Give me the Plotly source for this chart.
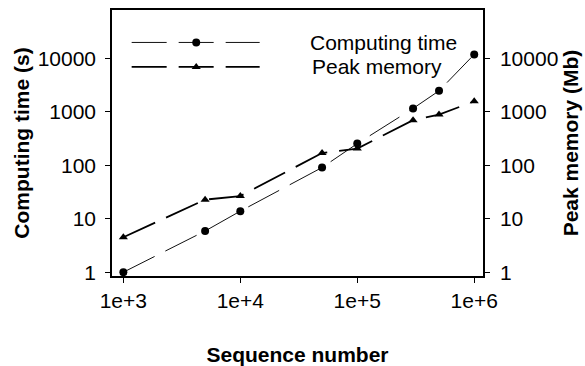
import plotly.graph_objects as go

seq_number = [1e3, 5e3, 1e4, 5e4, 1e5, 3e5, 5e5, 1e6]
computing_time = [1.0, 5.9, 13.9, 91, 255, 1160, 2480, 11900]
peak_memory = [4.5, 22.8, 26.6, 170, 206, 700, 890, 1580]

x_ticks = [1e3, 1e4, 1e5, 1e6]
x_tick_text = ["1e+3", "1e+4", "1e+5", "1e+6"]
y_ticks = [1, 10, 100, 1000, 10000]
y_tick_text = ["1", "10", "100", "1000", "10000"]

FONT = "Liberation Sans, Arial, sans-serif"
FS = 21
DASH = "35px,12px"

fig = go.Figure()
fig.add_trace(go.Scatter(
    x=seq_number, y=computing_time, mode="lines+markers", name="Computing time",
    line=dict(color="#111", width=1, dash=DASH),
    marker=dict(symbol="circle", size=8, color="black"),
    xaxis="x", yaxis="y", showlegend=False))
fig.add_trace(go.Scatter(
    x=seq_number, y=peak_memory, mode="lines+markers", name="Peak memory",
    line=dict(color="black", width=1.8, dash=DASH),
    marker=dict(symbol="triangle-up", size=8, color="black"),
    xaxis="x", yaxis="y2", showlegend=False))

# Hand-drawn legend on an invisible overlay axis (fractions of plot area)
leg_x = [0.053, 0.227, 0.398]
fig.add_trace(go.Scatter(x=[leg_x[0], leg_x[2]], y=[0.878, 0.878], mode="lines",
                         line=dict(color="#111", width=1, dash=DASH),
                         xaxis="x3", yaxis="y3", showlegend=False, hoverinfo="skip"))
fig.add_trace(go.Scatter(x=[leg_x[1]], y=[0.878], mode="markers",
                         marker=dict(symbol="circle", size=8, color="black"),
                         xaxis="x3", yaxis="y3", showlegend=False, hoverinfo="skip"))
fig.add_trace(go.Scatter(x=[leg_x[0], leg_x[2]], y=[0.786, 0.786], mode="lines",
                         line=dict(color="black", width=1.8, dash=DASH),
                         xaxis="x3", yaxis="y3", showlegend=False, hoverinfo="skip"))
fig.add_trace(go.Scatter(x=[leg_x[1]], y=[0.786], mode="markers",
                         marker=dict(symbol="triangle-up", size=8, color="black"),
                         xaxis="x3", yaxis="y3", showlegend=False, hoverinfo="skip"))

axis_common = dict(
    showline=True, linecolor="black", linewidth=1.5,
    ticks="outside", ticklen=5, tickcolor="black", tickwidth=1,
    showgrid=False, zeroline=False, automargin=False,
    tickfont=dict(family=FONT, size=FS, color="black"),
)

fig.update_layout(
    width=585, height=366,
    margin=dict(l=112, r=102, t=10, b=90, autoexpand=False),
    paper_bgcolor="white", plot_bgcolor="white",
    font=dict(family=FONT, size=FS, color="black"),
    xaxis=dict(type="log", range=[2.903, 6.075], tickvals=x_ticks, ticktext=x_tick_text,
               mirror=True,
               title=dict(text="<b>Sequence number</b>", standoff=36,
                          font=dict(family=FONT, size=FS)),
               **axis_common),
    yaxis=dict(type="log", range=[-0.071, 4.907], tickvals=y_ticks, ticktext=y_tick_text,
               mirror=True, ticklabelstandoff=5,
               title=dict(text="<b>Computing time (s)</b>", standoff=2,
                          font=dict(family=FONT, size=FS)),
               **axis_common),
    yaxis2=dict(type="log", range=[-0.071, 4.907], tickvals=y_ticks, ticktext=y_tick_text,
                overlaying="y", side="right", ticklabelstandoff=6,
                title=dict(text="<b>Peak memory (Mb)</b>", standoff=6,
                           font=dict(family=FONT, size=FS)),
                **axis_common),
    xaxis3=dict(range=[0, 1], overlaying="x", visible=False, fixedrange=True),
    yaxis3=dict(range=[0, 1], overlaying="y", visible=False, fixedrange=True),
    annotations=[
        dict(text="Computing time", xref="x3", yref="y3", x=0.731, y=0.878,
             showarrow=False, xanchor="center", yanchor="middle",
             font=dict(family=FONT, size=FS, color="black")),
        dict(text="Peak memory", xref="x3", yref="y3", x=0.714, y=0.786,
             showarrow=False, xanchor="center", yanchor="middle",
             font=dict(family=FONT, size=FS, color="black")),
    ],
)

fig.write_html("out.html")
